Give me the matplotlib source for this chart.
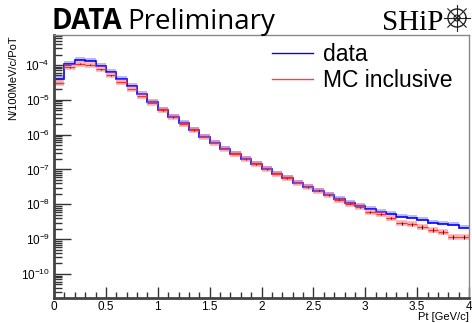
import numpy as np
import matplotlib
matplotlib.use("Agg")
import matplotlib.pyplot as plt
from matplotlib.lines import Line2D
from matplotlib.ticker import LogLocator, MultipleLocator, LogFormatterSciNotation, FormatStrFormatter, NullFormatter

plt.rcParams['font.family'] = ['Liberation Sans', 'DejaVu Sans']
plt.rcParams['mathtext.default'] = 'regular'

# Pt bin edges (0.1 GeV/c bins)
edges = np.linspace(0, 4, 41)

# log10 of N/100MeV/c/PoT
data_log = [-4.41, -3.963, -3.856, -3.885, -4.02, -4.21, -4.393, -4.603, -4.824, -5.062,
            -5.283, -5.484, -5.665, -5.875, -6.059, -6.239, -6.403, -6.555, -6.707, -6.851,
            -6.995, -7.13, -7.253, -7.379, -7.503, -7.609, -7.741, -7.856, -7.962, -8.048,
            -8.143, -8.22, -8.269, -8.355, -8.401, -8.459, -8.528, -8.565, -8.602, -8.671]
mc_log = [-4.517, -4.066, -3.963, -3.991, -4.123, -4.296, -4.488, -4.689, -4.89, -5.091,
          -5.3, -5.502, -5.694, -5.88, -6.065, -6.245, -6.41, -6.56, -6.712, -6.855,
          -7.0, -7.135, -7.258, -7.385, -7.51, -7.612, -7.745, -7.862, -7.982, -8.086,
          -8.229, -8.286, -8.384, -8.545, -8.574, -8.651, -8.729, -8.795, -8.93, -8.93]
# relative stat errors on MC, bigger in the tail
mc_relerr = [0.02] * 28 + [0.04, 0.05, 0.06, 0.07, 0.08, 0.09, 0.1, 0.11, 0.12, 0.13, 0.14, 0.14]

data_vals = 10.0 ** np.array(data_log)
mc_vals = 10.0 ** np.array(mc_log)
mc_err = mc_vals * np.array(mc_relerr)
centers = 0.5 * (edges[:-1] + edges[1:])

fig = plt.figure(figsize=(4.72, 3.23), dpi=100)
ax = fig.add_axes([54 / 472, 1 - 298 / 323, 415 / 472, 263 / 323])

# data: step line with light band
band_hi = np.append(data_vals * 1.22, data_vals[-1] * 1.22)
band_lo = np.append(data_vals, data_vals[-1])
ax.fill_between(edges, band_lo, band_hi, step='post', color='#8080ff', alpha=0.55, lw=0)
ax.stairs(data_vals, edges, baseline=None, color='#0000ff', lw=1.2)

# MC: per bin horizontal bars + band + error bars
ax.hlines(mc_vals, edges[:-1], edges[1:], color='#ff6060', lw=4, alpha=0.5)
ax.hlines(mc_vals, edges[:-1], edges[1:], color='#ff3030', lw=0.8)
ax.errorbar(centers, mc_vals, yerr=mc_err, fmt='none', ecolor='#600000', elinewidth=0.8)

ax.set_yscale('log')
ax.set_xlim(0, 4)
ax.set_ylim(10 ** -10.69, 10 ** -3.139)

ax.xaxis.set_major_locator(MultipleLocator(0.5))
ax.xaxis.set_minor_locator(MultipleLocator(0.1))
ax.xaxis.set_major_formatter(FormatStrFormatter('%g'))
ax.yaxis.set_major_locator(LogLocator(base=10, numticks=20))
ax.yaxis.set_minor_locator(LogLocator(base=10, subs=np.arange(2, 10), numticks=20))
ax.yaxis.set_major_formatter(LogFormatterSciNotation())
ax.yaxis.set_minor_formatter(NullFormatter())

ax.tick_params(axis='both', which='both', direction='in', top=False, right=False,
               labelsize=8.5, colors='#333333', labelcolor='black')
ax.tick_params(axis='x', which='major', length=8, width=1.0, pad=2)
ax.tick_params(axis='x', which='minor', length=4, width=1.0)
ax.tick_params(axis='y', which='major', length=12, width=1.0, pad=3)
ax.tick_params(axis='y', which='minor', length=6, width=1.0)

for side in ['left', 'bottom']:
    ax.spines[side].set_linewidth(2)
    ax.spines[side].set_color('#444444')
for side in ['top', 'right']:
    ax.spines[side].set_linewidth(1)
    ax.spines[side].set_color('#888888')

ax.set_ylabel('N/100MeV/c/PoT', fontsize=8, loc='top')
ax.yaxis.set_label_coords(-0.087, 1.0)
ax.set_xlabel('Pt [GeV/c]', fontsize=8, loc='right')
ax.xaxis.set_label_coords(1.0, -0.055)

handles = [Line2D([], [], color='#0000ff', lw=1.0),
           Line2D([], [], color='#ff4040', lw=1.0)]
ax.legend(handles, ['data', 'MC inclusive'], loc='upper right',
          bbox_to_anchor=(0.998, 1.03), frameon=False,
          fontsize=16.5, handlelength=1.8, handletextpad=0.4, labelspacing=0.12,
          borderpad=0.2)

# title
fig.text(52 / 472, 1 - 29 / 323, 'DATA', fontsize=20, fontweight='bold',
         family=['Open Sans', 'DejaVu Sans'], va='baseline')
fig.text(127 / 472, 1 - 29 / 323, 'Preliminary', fontsize=20,
         family=['Open Sans', 'DejaVu Sans'], va='baseline')

# SHiP logo
fig.text(382 / 472, 1 - 30 / 323, 'SHiP', fontsize=21,
         family=['Liberation Serif', 'DejaVu Serif'], va='baseline')
lax = fig.add_axes([442 / 472, 1 - 34 / 323, 30 / 472, 32 / 323])
lax.set_xlim(-15, 15)
lax.set_ylim(-16, 16)
lax.set_aspect('equal')
lax.axis('off')
t = np.linspace(0, 2 * np.pi, 100)
lax.plot(9 * np.cos(t), 9 * np.sin(t), color='#222222', lw=1.0)
lax.plot(3 * np.cos(t), 3 * np.sin(t), color='#222222', lw=0.8)
for a in np.arange(0, 180, 45):
    r = np.deg2rad(a)
    lax.plot([-13 * np.cos(r), 13 * np.cos(r)], [-13 * np.sin(r), 13 * np.sin(r)],
             color='#222222', lw=0.8)

fig.savefig('out.png', dpi=100)
